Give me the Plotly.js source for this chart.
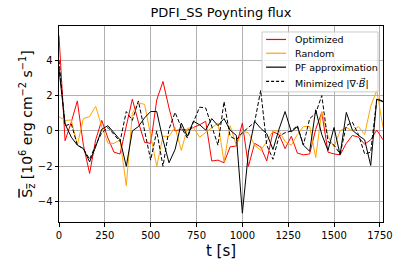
<!DOCTYPE html>
<html>
<head>
<meta charset="utf-8">
<script src="https://cdn.plot.ly/plotly-3.0.1.min.js"></script>
<style>html,body{margin:0;padding:0;background:#fff;}#chart{width:407px;height:271px;}</style>
</head>
<body>
<div id="chart"></div>
<script>
// time [s]
const t = [0, 33, 67, 100, 133, 167, 200, 233, 267, 300, 333, 367, 400, 433, 467, 500, 533, 567, 600, 633,
  667, 700, 733, 767, 800, 833, 867, 900, 933, 967, 1000, 1033, 1067, 1100, 1133, 1167, 1200, 1233, 1267, 1300,
  1333, 1367, 1400, 1433, 1467, 1500, 1533, 1567, 1600, 1633, 1667, 1700, 1733, 1767];
const optimized = [5.4, -0.55, 0.5, 1.7, -0.8, -2.4, -0.5, 0.6, -0.4, -1.2, -1.3, 0.2, 1.8, 0.5, -0.65, -0.7, 1.75, 2.8, 1.3, 0.0,
  0.1, 0.05, 0.2, 0.35, 0.55, -1.7, -1.65, -1.8, -0.9, -0.85, 0.45, -2.0, -0.7, -0.9, -1.7, -0.05, -0.2, -1.0, -0.3, -1.25,
  -1.35, -1.3, 0.1, 1.05, -1.2, -1.3, -1.35, -0.7, -0.25, -0.35, -0.75, -0.5, 0.05, -0.5];
const random = [0.8, 0.6, 0.62, -0.8, 0.7, 0.82, 1.4, 0.25, -0.7, -0.7, -0.5, -3.1, 1.0, 1.6, 1.5, -0.3, -2.0, -0.3, -0.3, 0.2,
  -1.1, 0.15, 0.2, -0.35, -0.1, 0.2, 0.45, -1.75, 0.3, -0.8, 0.0, -0.1, -0.8, -1.1, -0.6, 0.0, 0.0, -0.6, -0.8, -0.2,
  0.25, 0.25, -1.5, 1.1, -0.3, -0.9, 0.0, 0.2, 0.0, 0.25, -0.2, 1.4, 2.3, 0.2];
const pfApprox = [3.5, 0.4, -0.35, -0.8, -1.0, -1.75, -0.9, 0.1, 0.3, -0.1, -0.5, -2.0, 0.0, 0.25, 0.75, 1.1, 1.1, -0.5, -1.8, -1.05,
  0.45, -0.3, 0.55, 0.35, 0.05, 0.7, 0.3, 0.7, 0.05, -0.25, -4.65, -1.2, 0.55, 0.15, -0.15, -1.05, 0.1, 1.1, -0.05, 0.25,
  -0.8, -1.15, 1.2, -0.2, -1.1, 0.2, -1.35, 1.05, 0.05, -0.25, -0.5, -1.95, 1.8, 1.65];
const minDivB = [4.0, 0.3, 0.4, -0.8, -1.0, -1.6, -0.8, -0.1, 0.2, -0.2, -0.6, 1.1, 0.6, 1.7, 0.1, -1.65, 0.0, -2.0, 0.1, 1.05,
  0.2, -0.4, 0.5, 1.35, 1.3, 0.2, -0.8, 1.66, -0.3, -0.5, -0.1, 0.2, 0.5, 2.3, -0.8, -1.6, -0.3, -0.1, 0.0, 0.3,
  -0.8, 0.7, 1.0, 2.0, -0.6, -0.8, -1.3, 0.3, 0.5, -0.2, -1.3, -1.2, 1.8, 1.7];
const seriesNames = ["Optimized", "Random", "PF approximation", "Minimized |\u2207\u00b7<i>B\u20d7</i>|"];
const seriesColors = ["#ff0000", "#ffa500", "#000000", "#000000"];
const seriesDash = ["solid", "solid", "solid", "4px,2px"];
const xTicks = [0, 250, 500, 750, 1000, 1250, 1500, 1750];
const yTicks = [-4, -2, 0, 2, 4];

const font = "DejaVu Sans, sans-serif";
const values = [optimized, random, pfApprox, minDivB];
const data = values.map((y, k) => ({
  x: t, y: y, name: seriesNames[k], type: "scatter", mode: "lines", showlegend: false,
  line: {color: seriesColors[k], width: 1, dash: seriesDash[k]}
}));

// legend drawn as shapes + annotations (compact, like matplotlib)
const legBox = {x0: 0.6265, x1: 0.9846, y0: 0.664, y1: 0.9695};
const legRows = [0.9313, 0.861, 0.79, 0.717];
const shapes = [{
  type: "rect", xref: "paper", yref: "paper", layer: "above",
  x0: legBox.x0, x1: legBox.x1, y0: legBox.y0, y1: legBox.y1,
  fillcolor: "rgba(255,255,255,0.8)", line: {color: "#cccccc", width: 1}
}];
const annotations = [];
legRows.forEach((yy, k) => {
  shapes.push({type: "line", xref: "paper", yref: "paper", layer: "above",
    x0: 0.6392, x1: 0.7006, y0: yy, y1: yy,
    line: {color: seriesColors[k], width: 1.2, dash: k === 3 ? "3px,2px" : "solid"}});
  annotations.push({xref: "paper", yref: "paper", x: 0.7213, y: yy + (k === 3 ? -0.008 : 0),
    xanchor: "left", yanchor: "middle", showarrow: false, text: seriesNames[k],
    font: {family: font, size: 9.5, color: "#000"}});
});

const layout = {
  width: 407, height: 271,
  margin: {l: 59, r: 24, t: 26, b: 48.5},
  paper_bgcolor: "#fff", plot_bgcolor: "#fff",
  font: {family: font, size: 10, color: "#000"},
  title: {text: "PDFI_SS Poynting flux", font: {family: font, size: 13, color: "#000"},
    x: 0.543, xanchor: "center", y: 0.955, yanchor: "middle"},
  xaxis: {
    range: [t[0], t[t.length - 1]], tickvals: xTicks, ticktext: xTicks.map(String),
    showgrid: true, gridcolor: "#b0b0b0", gridwidth: 1, zeroline: false,
    showline: true, linecolor: "#000", linewidth: 1, mirror: true,
    ticks: "outside", ticklen: 3.5, tickcolor: "#000", tickwidth: 1,
    tickfont: {family: font, size: 10},
    title: {text: "t [s]", font: {family: font, size: 15}, standoff: 5}
  },
  yaxis: {
    range: [-5.15, 5.94], tickvals: yTicks,
    showgrid: true, gridcolor: "#b0b0b0", gridwidth: 1, zeroline: false,
    showline: true, linecolor: "#000", linewidth: 1, mirror: true,
    ticks: "outside", ticklen: 3.5, tickcolor: "#000", tickwidth: 1,
    tickfont: {family: font, size: 10},
    title: {text: "<span style='text-decoration:overline'>S<sub>z</sub></span> [10<sup>6</sup> erg cm<sup>\u22122</sup> s<sup>\u22121</sup>]",
      font: {family: font, size: 14}, standoff: 1}
  },
  shapes: shapes,
  annotations: annotations,
  showlegend: false
};
Plotly.newPlot("chart", data, layout, {displayModeBar: false, staticPlot: true});
</script>
</body>
</html>
